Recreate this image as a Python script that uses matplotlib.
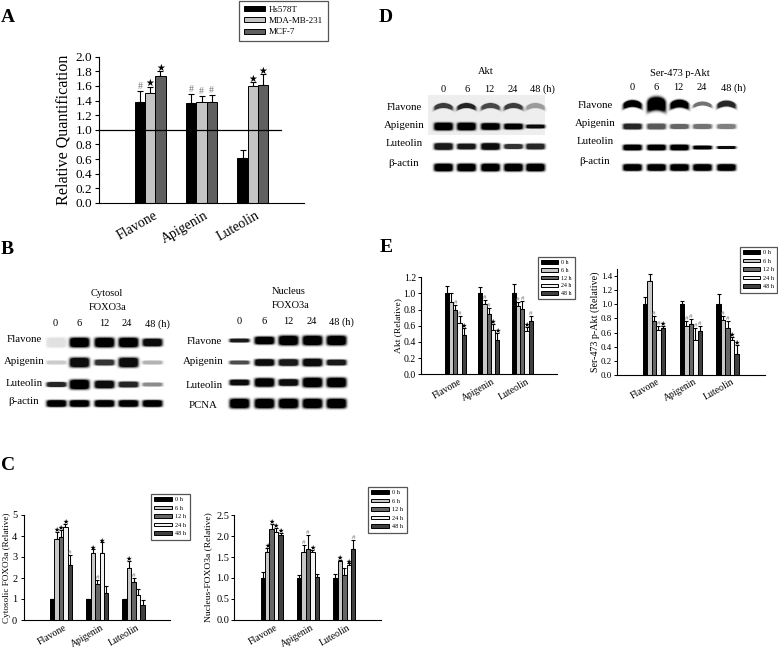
import numpy as np
import matplotlib
matplotlib.use('Agg')
import matplotlib.pyplot as plt
from matplotlib.patches import Patch

W = 778
H = 648
plt.rcParams['font.family'] = ['Liberation Serif', 'DejaVu Sans']

groups = ['Flavone', 'Apigenin', 'Luteolin']
hours = ['0 h', '6 h', '12 h', '24 h', '48 h']
cells = ['Hs578T', 'MDA-MB-231', 'MCF-7']
cell_colors = ['#000000', '#c4c4c4', '#606060']
hour_colors = ['#000000', '#c8c8c8', '#666666', '#f2f2f2', '#404040']

# panel A
a_vals = [[1.38, 1.50, 1.73], [1.37, 1.38, 1.38], [0.61, 1.60, 1.61]]
a_errs = [[0.15, 0.09, 0.07], [0.12, 0.08, 0.10], [0.11, 0.05, 0.15]]
a_marks = [['#', '*', '*'], ['#', '#', '#'], ['', '*', '*']]

# panel C
cl_vals = [[1.0, 3.85, 3.95, 4.45, 2.6], [1.0, 3.17, 1.7, 3.2, 1.3], [1.0, 2.5, 1.8, 1.2, 0.72]]
cl_errs = [[0.02, 0.35, 0.35, 0.12, 0.5], [0.02, 0.2, 0.2, 0.5, 0.3], [0.02, 0.3, 0.2, 0.3, 0.25]]
cl_marks = [['', '*', '*', '*', '#'], ['', '*', '#', '*', ''], ['', '*', '#', '', '']]
cr_vals = [[1.0, 1.62, 2.17, 2.1, 2.03], [1.0, 1.62, 1.7, 1.62, 1.03], [1.0, 1.4, 1.07, 1.32, 1.7]]
cr_errs = [[0.15, 0.1, 0.12, 0.1, 0.05], [0.07, 0.18, 0.32, 0.05, 0.07], [0.1, 0.03, 0.18, 0.03, 0.2]]
cr_marks = [['', '*', '*', '*', '*'], ['', '#', '#', '*', ''], ['', '*', '', '*', '#']]

# panel E
el_vals = [[1.0, 0.9, 0.79, 0.63, 0.49], [1.0, 0.87, 0.75, 0.55, 0.42], [1.0, 0.84, 0.81, 0.53, 0.66]]
el_errs = [[0.09, 0.1, 0.07, 0.09, 0.08], [0.08, 0.05, 0.07, 0.07, 0.09], [0.12, 0.05, 0.1, 0.06, 0.06]]
el_marks = [['', '', '#', '#', '*'], ['', '#', '#', '*', '*'], ['', '#', '#', '*', '#']]
er_vals = [[1.0, 1.34, 0.76, 0.63, 0.67], [1.0, 0.7, 0.72, 0.49, 0.62], [1.0, 0.78, 0.67, 0.5, 0.3]]
er_errs = [[0.1, 0.1, 0.08, 0.07, 0.03], [0.05, 0.07, 0.07, 0.17, 0.07], [0.15, 0.05, 0.09, 0.04, 0.12]]
er_marks = [['', '', '#', '#', '*'], ['', '#', '#', '#', '#'], ['', '#', '#', '*', '*']]

# blots: band darkness and half height per row and lane
bl_rows = ['Flavone', 'Apigenin', 'Luteolin', 'β-actin']
bl_dark = [[0.12, 1, 1, 1, 0.95], [0.2, 0.95, 0.8, 0.95, 0.3], [0.85, 1, 0.95, 0.85, 0.45], [1, 1, 1, 1, 1]]
bl_high = [[5, 5, 5, 5, 4], [2, 5, 3, 5, 2], [2.5, 5, 4, 3, 2], [3.5, 3.5, 3.5, 3.5, 3.5]]
br_rows = ['Flavone', 'Apigenin', 'Luteolin', 'PCNA']
br_dark = [[0.9, 1, 1, 1, 1], [0.7, 0.95, 0.9, 0.95, 0.9], [0.95, 1, 0.95, 1, 1], [1, 1, 1, 1, 1]]
br_high = [[2, 4, 5, 5, 5], [2, 3.5, 3.5, 4, 3], [3, 4.5, 3.5, 5, 5], [5, 5, 5, 5, 5]]
dl_dark = [[0.75, 0.85, 0.7, 0.75, 0.35], [1, 1, 1, 1, 0.95], [0.9, 0.9, 0.95, 0.8, 0.85], [1, 1, 1, 1, 1]]
dl_high = [[2.5, 2.5, 2.5, 2.5, 2.5], [4, 4, 3.5, 3, 2], [3.5, 3, 3.5, 2.5, 3], [4, 4, 4, 4, 4]]
dr_dark = [[1, 1, 1, 0.55, 0.85], [0.85, 0.65, 0.6, 0.55, 0.5], [1, 1, 1, 1, 0.95], [1, 1, 1, 1, 1]]
dr_high = [[3.5, 7, 4, 2, 3], [3, 3, 2.5, 2.5, 2.5], [3, 3, 3, 2, 1.5], [3.5, 3.5, 3.5, 3.5, 3.5]]
lanes = ['0', '6', '12', '24', '48 (h)']

fig = plt.figure(figsize=(W / 100, H / 100), dpi=100)


def put(x, y, s, **kw):
    kw.setdefault('ha', 'center')
    kw.setdefault('va', 'center')
    return fig.text(x / W, 1 - y / H, s, **kw)


def box(left, right, top, bottom):
    return fig.add_axes([left / W, 1 - bottom / H, (right - left) / W, (bottom - top) / H])


def add_bands(canvas, xs, ys, dark, high, half, arcs):
    yy, xx = np.mgrid[0:H, 0:W]
    for r, y0 in enumerate(ys):
        for c, x0 in enumerate(xs):
            dx = (xx - x0) / half
            dy = (yy - y0 - arcs[r] * dx ** 2) / high[r][c]
            band = np.exp(-dx ** 6) * np.exp(-dy ** 4)
            canvas *= 1 - dark[r][c] * np.clip(band * 1.5, 0, 1)


def bars(ax, vals, errs, marks, colors, width, left, right, centers, top, size):
    # work out the x range from where the group centres sit in pixels
    step = centers[1] - centers[0]
    ax.set_xlim((left - centers[0]) / step, (right - centers[0]) / step)
    ax.set_ylim(0, top)
    n = len(colors)
    for g in range(len(vals)):
        for k in range(n):
            x = g + (k - (n - 1) / 2) * width
            ax.bar(x, vals[g][k], width, color=colors[k], edgecolor='black', linewidth=0.7, zorder=2)
            ax.errorbar(x, vals[g][k], yerr=[[0], [errs[g][k]]], color='black', lw=0.8,
                        capsize=size * 0.3, capthick=0.8, zorder=1)
            end = vals[g][k] + errs[g][k]
            if marks[g][k] == '*':
                ax.text(x, end - top * 0.012, '★', ha='center', va='bottom', fontsize=size, color='black', zorder=3)
            elif marks[g][k] == '#':
                ax.text(x, end, '#', ha='center', va='bottom', fontsize=size, color='#777777', zorder=3)
    for s in ['top', 'right']:
        ax.spines[s].set_visible(False)
    ax.set_xticks([])
    ax.patch.set_alpha(0)


def group_labels(centers, y, size):
    for x, name in zip(centers, groups):
        put(x + 3, y, name, rotation=30, rotation_mode='anchor', ha='right', va='top', fontsize=size)


def legend(labels, colors, left, top, size, hl, spacing):
    handles = [Patch(facecolor=c, edgecolor='black', linewidth=0.7) for c in colors]
    leg = fig.legend(handles, labels, loc='upper left', bbox_to_anchor=(left / W, 1 - top / H),
                     fontsize=size, handlelength=hl, handleheight=0.5, labelspacing=spacing,
                     handletextpad=0.5, borderpad=0.55, borderaxespad=0, fancybox=False,
                     framealpha=1, edgecolor='#555555')
    leg.get_frame().set_linewidth(0.9)


# western blots go in a full-figure image underneath everything
canvas = np.ones((H, W))
canvas[95:135, 428:545] = 0.93
add_bands(canvas, [56, 79, 104, 128, 152], [342, 362, 384, 403], bl_dark, bl_high, 10, [0, 0, 0, 0])
add_bands(canvas, [239, 264, 288, 312, 336], [340, 362, 382, 403], br_dark, br_high, 10, [0, 0, 0, 0])
add_bands(canvas, [443, 466, 490, 513, 535], [105, 126, 146, 167], dl_dark, dl_high, 9.5, [3, 0, 0, 0])
add_bands(canvas, [632, 656, 679, 702, 726], [103, 126, 147, 167], dr_dark, dr_high, 9.5, [3, 0, 0, 0])
bg = fig.add_axes([0, 0, 1, 1], zorder=-1)
bg.imshow(canvas, cmap='gray', vmin=0, vmax=1, aspect='auto', interpolation='bilinear')
bg.axis('off')

# panel A
ax = box(98.7, 304, 56.7, 203)
bars(ax, a_vals, a_errs, a_marks, cell_colors, 0.2, 98.7, 304, [150.2, 201.5, 252.5], 2.0, 7)
ax.set_yticks(np.arange(0, 2.01, 0.2))
ax.tick_params(axis='y', labelsize=9.5, pad=1.5, length=3, width=0.8)
ax.axhline(1.0, xmin=0, xmax=(281 - 98.7) / (304 - 98.7), color='black', lw=0.9, zorder=4)
ax.set_ylabel('Relative Quantification', fontsize=11.6, labelpad=3)
group_labels([150.2, 201.5, 252.5], 209, 10)
legend(cells, cell_colors, 239, 1, 6.5, 2.3, 0.35)

# panel C
ax = box(23.5, 170, 515, 620)
bars(ax, cl_vals, cl_errs, cl_marks, hour_colors, 0.123, 23.5, 170, [61, 97.3, 133.5], 5, 5)
ax.set_yticks(range(6))
ax.tick_params(axis='y', labelsize=7.5, pad=2.5, length=2, width=0.7)
ax.set_ylabel('Cytosolic FOXO3a (Relative)', fontsize=6.6, labelpad=1)
group_labels([61, 97.3, 133.5], 623, 7)
legend(hours, hour_colors, 151, 494, 4.5, 2.8, 0.55)

ax = box(234.3, 381, 515.3, 619.7)
bars(ax, cr_vals, cr_errs, cr_marks, hour_colors, 0.123, 234.3, 381, [271.7, 308, 344.2], 2.5, 5)
ax.set_yticks(np.arange(0, 2.51, 0.5))
ax.tick_params(axis='y', labelsize=7.5, pad=1.5, length=2, width=0.7)
ax.set_ylabel('Nucleus-FOXO3a (Relative)', fontsize=6.8, labelpad=3)
group_labels([271.7, 308, 344.2], 623, 7)
legend(hours, hour_colors, 368, 487, 4.5, 2.8, 0.55)

# panel E
ax = box(420.7, 556.7, 277.3, 374.3)
bars(ax, el_vals, el_errs, el_marks, hour_colors, 0.126, 420.7, 556.7, [455.3, 488.8, 522.8], 1.2, 5)
ax.set_yticks(np.arange(0, 1.21, 0.2))
ax.tick_params(axis='y', labelsize=7, pad=1.5, length=2, width=0.7)
ax.set_ylabel('Akt (Relative)', fontsize=6.8, labelpad=1)
group_labels([455.3, 488.8, 522.8], 377, 7)
legend(hours, hour_colors, 538, 257, 4.3, 2.8, 0.45)

ax = box(617, 764.7, 269.3, 374.7)
bars(ax, er_vals, er_errs, er_marks, hour_colors, 0.122, 617, 764.7, [654, 690.8, 727.7], 1.5, 5)
ax.set_yticks(np.arange(0, 1.41, 0.2))
ax.tick_params(axis='y', labelsize=6.5, pad=1.5, length=2, width=0.7)
ax.set_ylabel('Ser-473 p-Akt (Relative)', fontsize=7.2, labelpad=1)
group_labels([654, 690.8, 727.7], 377, 7)
legend(hours, hour_colors, 740, 247, 4.5, 2.6, 0.55)

# panel letters
for x, y, s in [(8, 17, 'A'), (7, 249, 'B'), (8, 466, 'C'), (386, 17, 'D'), (386, 248, 'E')]:
    put(x, y, s, fontsize=14, fontweight='bold')

# blot labels
put(107, 293, 'Cytosol', fontsize=7.5)
put(108, 308, 'FOXO3a', fontsize=7.5)
put(289, 291, 'Nucleus', fontsize=7.5)
put(291, 306, 'FOXO3a', fontsize=7.5)
put(486, 72, 'Akt', fontsize=7.5)
put(680, 73, 'Ser-473 p-Akt', fontsize=7.5)

for xs, y in [([55, 79, 104, 127, 157], 324), ([239, 264, 288, 312, 341], 322),
              ([443, 467, 489, 513, 542], 89), ([632, 656, 678, 702, 733], 88)]:
    for x, s in zip(xs, lanes):
        put(x, y, s, fontsize=7.5)

for x, y, s in zip([24, 24, 24, 24], [340, 362, 384, 402], bl_rows):
    put(x, y, s, fontsize=7.8)
for x, y, s in zip([204, 203, 204, 203], [341, 362, 386, 405], br_rows):
    put(x, y, s, fontsize=7.8)
for x, y, s in zip([404, 404, 404, 404], [108, 126, 144, 163], bl_rows):
    put(x, y, s, fontsize=7.8)
for x, y, s in zip([595, 595, 595, 595], [106, 124, 142, 161], bl_rows):
    put(x, y, s, fontsize=7.8)

fig.savefig('out.png', dpi=100)
